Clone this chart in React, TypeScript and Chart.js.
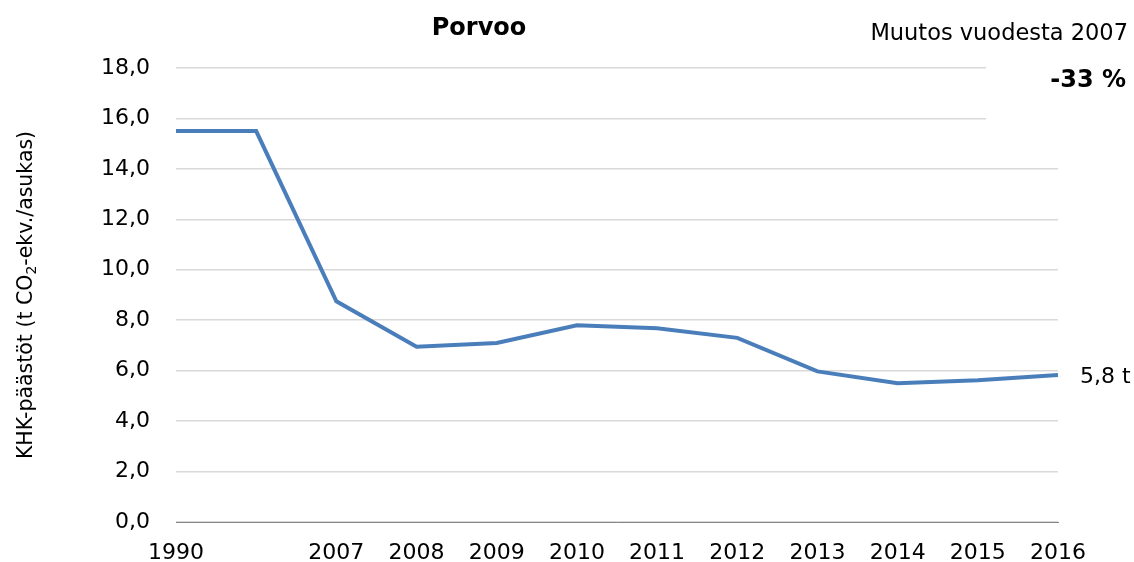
import React, { useEffect, useRef } from "react";
import { Chart, registerables } from "chart.js";

Chart.register(...registerables);

const categories = ["1990", "", "2007", "2008", "2009", "2010", "2011", "2012", "2013", "2014", "2015", "2016"];
const emissions = [15.5, 15.5, 8.75, 6.95, 7.1, 7.8, 7.68, 7.3, 5.97, 5.5, 5.62, 5.83];
const titleText = "Porvoo";
const changeLabel = "Muutos vuodesta 2007";
const changeValue = "-33 %";
const endLabel = "5,8 t";
const yTitleParts = ["KHK-päästöt (t CO", "2", "-ekv./asukas)"];

const FONT = "'DejaVu Sans', 'Noto Sans', sans-serif";

const overlay = {
  id: "overlay",
  afterDraw(chart: any) {
    const ctx = chart.ctx;
    const y = chart.scales.y;
    const x = chart.scales.x;
    ctx.save();
    // white box behind change text
    ctx.fillStyle = "#ffffff";
    ctx.fillRect(986, 55, 148, 80);
    ctx.fillStyle = "#000000";
    ctx.textBaseline = "alphabetic";
    ctx.textAlign = "center";
    ctx.font = `bold 24px ${FONT}`;
    ctx.fillText(titleText, 479, 35);
    ctx.textAlign = "right";
    ctx.font = `22.5px ${FONT}`;
    ctx.fillText(changeLabel, 1128, 40);
    ctx.font = `bold 24px ${FONT}`;
    ctx.fillText(changeValue, 1126, 87);
    // end label
    const last = emissions.length - 1;
    ctx.textAlign = "left";
    ctx.font = `22px ${FONT}`;
    ctx.fillText(endLabel, x.getPixelForValue(last) + 22, y.getPixelForValue(emissions[last]) + 8);
    // y title
    ctx.translate(32, 295);
    ctx.rotate(-Math.PI / 2);
    const big = `20.5px ${FONT}`;
    const small = `14px ${FONT}`;
    ctx.font = big;
    const w0 = ctx.measureText(yTitleParts[0]).width;
    const w2 = ctx.measureText(yTitleParts[2]).width;
    ctx.font = small;
    const w1 = ctx.measureText(yTitleParts[1]).width;
    let cx = -(w0 + w1 + w2) / 2;
    ctx.textAlign = "left";
    ctx.font = big;
    ctx.fillText(yTitleParts[0], cx, 0);
    cx += w0;
    ctx.font = small;
    ctx.fillText(yTitleParts[1], cx, 4);
    cx += w1;
    ctx.font = big;
    ctx.fillText(yTitleParts[2], cx, 0);
    ctx.restore();
  },
};

export default function App() {
  const ref = useRef<HTMLCanvasElement>(null);
  useEffect(() => {
    if (!ref.current) return;
    const chart = new Chart(ref.current, {
      type: "line",
      data: {
        labels: categories,
        datasets: [
          {
            data: emissions,
            borderColor: "#4a7ebb",
            borderWidth: 4,
            pointRadius: 0,
            tension: 0,
            fill: false,
          },
        ],
      },
      options: {
        responsive: false,
        animation: false,
        layout: { padding: { top: 68, right: 76, left: 0, bottom: 0 } },
        plugins: { legend: { display: false }, tooltip: { enabled: false }, title: { display: false } },
        scales: {
          x: {
            offset: false,
            grid: { display: false, drawTicks: false },
            border: { display: true, color: "#868686", width: 1 },
            ticks: {
              color: "#000000",
              font: { family: FONT, size: 22 },
              padding: 18,
              maxRotation: 0,
              autoSkip: false,
            },
            afterFit: (s: any) => {
              s.height = 40;
            },
          },
          y: {
            min: 0,
            max: 18,
            grid: { color: "#d9d9d9", lineWidth: 1.5, drawTicks: false },
            border: { display: false },
            ticks: {
              stepSize: 2,
              color: "#000000",
              font: { family: FONT, size: 22 },
              padding: 26,
              callback: (v: any) => Number(v).toFixed(1).replace(".", ","),
            },
            afterFit: (s: any) => {
              s.width = 176;
            },
          },
        },
      },
      plugins: [overlay],
    });
    return () => chart.destroy();
  }, []);
  return (
    <div style={{ position: "fixed", left: 0, top: 0, width: 1134, height: 562, background: "#fff" }}>
      <canvas ref={ref} width={1134} height={562} />
    </div>
  );
}
